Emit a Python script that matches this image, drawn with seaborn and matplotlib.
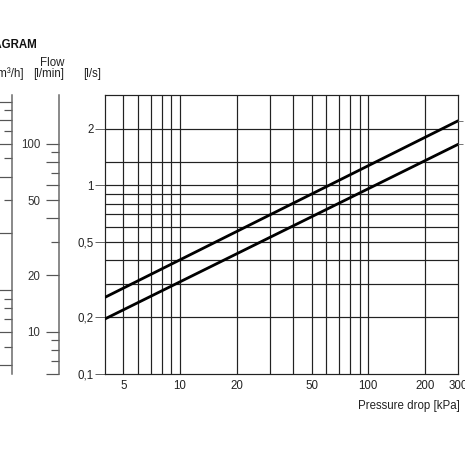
import matplotlib
matplotlib.use('Agg')
import matplotlib.pyplot as plt
import seaborn as sns
import pandas as pd

pressure_kpa = [4, 300]
flow_upper = [0.254, 2.2]    # l/s
flow_lower = [0.195, 1.65]   # l/s

x_ticks = [5, 10, 20, 50, 100, 200, 300]
x_tick_labels = ['5', '10', '20', '50', '100', '200', '300']
y_ticks = [0.1, 0.2, 0.5, 1, 2]
y_tick_labels = ['0,1', '0,2', '0,5', '1', '2']
x_grid = [5, 6, 7, 8, 9, 10, 20, 30, 40, 50, 60, 70, 80, 90, 100, 200]
y_grid = [0.2, 0.3, 0.4, 0.5, 0.6, 0.7, 0.8, 0.9, 1, 1.333, 2]

lmin_major = [6, 10, 20, 40, 50, 60, 80, 100]
lmin_major_labels = ['', '10', '20', '', '50', '', '', '100']
lmin_minor = [7, 8, 9, 30, 70, 90]
m3h_major = [0.4, 0.6, 1, 2, 4, 6, 8, 10]
m3h_minor = [0.5, 0.7, 0.8, 0.9, 3, 5, 7, 9]

sns.set_theme(style='white')
plt.rcParams['font.family'] = ['Liberation Sans', 'DejaVu Sans']

W = 465.0
PT = 72.0 / 100.0   # pontos por pixel
FS = 8.3
fig = plt.figure(figsize=(4.65, 4.65), dpi=100)

ax_left, ax_right, ax_top, ax_bot = 105, 458, 95.5, 373.5
rect = [ax_left / W, 1 - ax_bot / W, (ax_right - ax_left) / W, (ax_bot - ax_top) / W]
ax = fig.add_axes(rect)

df = pd.DataFrame({
    'dp': pressure_kpa * 2,
    'q': flow_upper + flow_lower,
    'curve': ['a', 'a', 'b', 'b'],
})
sns.lineplot(data=df, x='dp', y='q', hue='curve', palette=['black', 'black'],
             linewidth=2.8 * PT, legend=False, ax=ax, zorder=5)

ax.set_xscale('log')
ax.set_yscale('log')
ax.set_xlim(4, 300)
ax.set_ylim(0.1, 3)

grid_color = '#222222'
for xv in x_grid:
    ax.axvline(xv, color=grid_color, linewidth=1.2 * PT, zorder=1)
for yv in y_grid:
    ax.axhline(yv, color=grid_color, linewidth=1.2 * PT, zorder=1)

for s in ax.spines.values():
    s.set_color(grid_color)
    s.set_linewidth(1.2 * PT)

ax.set_xticks(x_ticks, labels=x_tick_labels)
ax.set_xticks([], minor=True)
ax.set_yticks(y_ticks, labels=y_tick_labels)
ax.set_yticks([], minor=True)
ax.tick_params(axis='x', which='major', length=0, pad=4.5, labelsize=FS, labelcolor='#222')
ax.tick_params(axis='y', which='major', left=True, direction='out', length=10 * PT,
               width=1.0 * PT, color='#666', pad=1, labelsize=FS, labelcolor='#222')
ax.set_xlabel('')
ax.set_ylabel('')

# marcas à direita nas pontas das curvas
ax_r = ax.twinx()
ax_r.set_yscale('log')
ax_r.set_ylim(0.1, 3)
ax_r.set_yticks([flow_upper[-1], flow_lower[-1]], labels=['', ''])
ax_r.set_yticks([], minor=True)
ax_r.tick_params(axis='y', right=True, direction='out', length=5 * PT, width=1.0 * PT,
                 color='#777', pad=1)
for s in ax_r.spines.values():
    s.set_visible(False)

# eixos auxiliares [l/min] e [m³/h]
def aux_axis(xpix, lo, hi, major, major_labels, minor, long_len, short_len):
    a = fig.add_axes([xpix / W, rect[1], 0.0001, rect[3]])
    a.set_yscale('log')
    a.set_ylim(lo, hi)
    a.set_xticks([])
    for name, s in a.spines.items():
        s.set_visible(name == 'left')
    a.spines['left'].set_color('#666')
    a.spines['left'].set_linewidth(1.5 * PT)
    a.set_yticks(major, labels=major_labels)
    a.set_yticks(minor, labels=[''] * len(minor), minor=True)
    a.tick_params(axis='y', which='major', left=True, direction='out', length=long_len * PT,
                  width=1.2 * PT, color='#555', pad=6 * PT, labelsize=FS, labelcolor='#333')
    a.tick_params(axis='y', which='minor', left=True, direction='out', length=short_len * PT,
                  width=1.2 * PT, color='#555')
    a.patch.set_alpha(0)
    return a

aux_axis(59.3, 6, 180, lmin_major, lmin_major_labels, lmin_minor, 13, 8)
aux_axis(12, 0.36, 10.8, m3h_major, [''] * len(m3h_major), m3h_minor, 14, 8)

# textos
fig.text(37 / W, 1 - 45 / W, 'DIAGRAM', ha='right', va='center', fontsize=FS,
         fontweight='bold', color='#111')
fig.text(52 / W, 1 - 63 / W, 'Flow', ha='center', va='center', fontsize=FS, color='#222')
fig.text(24 / W, 1 - 73.5 / W, '[m³/h]', ha='right', va='center', fontsize=FS, color='#222')
fig.text(48.5 / W, 1 - 73.5 / W, '[l/min]', ha='center', va='center', fontsize=FS, color='#222')
fig.text(92 / W, 1 - 73.5 / W, '[l/s]', ha='center', va='center', fontsize=FS, color='#222')
fig.text(460 / W, 1 - 406 / W, 'Pressure drop [kPa]', ha='right', va='center',
         fontsize=FS, color='#222')

fig.savefig('out.png', dpi=100, facecolor='white')
